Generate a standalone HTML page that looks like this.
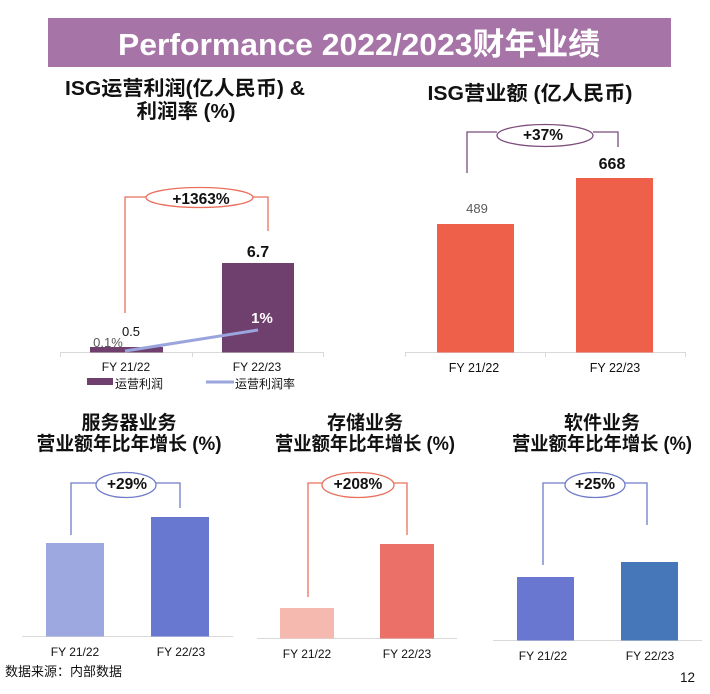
<!DOCTYPE html>
<html><head><meta charset="utf-8"><style>
html,body{margin:0;padding:0;background:#fff;}
svg{display:block;}
text{font-family:"Liberation Sans","Noto Sans CJK SC",sans-serif;}
.b{font-weight:bold;}
</style></head><body>
<svg width="710" height="694" viewBox="0 0 710 694" xmlns="http://www.w3.org/2000/svg">
<rect x="0" y="0" width="710" height="694" fill="#fff"/>
<!-- Header -->
<rect x="48" y="18" width="623" height="49" fill="#a674a6"/>
<text x="359" y="55" class="b" font-size="31" fill="#fff" text-anchor="middle" textLength="482" lengthAdjust="spacingAndGlyphs">Performance 2022/2023财年业绩</text>

<!-- Titles top -->
<text x="185" y="95" class="b" font-size="20" fill="#111" text-anchor="middle" textLength="240" lengthAdjust="spacingAndGlyphs">ISG运营利润(亿人民币) &amp;</text>
<text x="186" y="118" class="b" font-size="20" fill="#111" text-anchor="middle" textLength="99" lengthAdjust="spacingAndGlyphs">利润率 (%)</text>
<text x="530" y="100" class="b" font-size="20" fill="#111" text-anchor="middle" textLength="205" lengthAdjust="spacingAndGlyphs">ISG营业额 (亿人民币)</text>

<!-- Left chart -->
<g stroke="#d9d9d9" stroke-width="1" fill="none">
<line x1="60" y1="352.5" x2="323" y2="352.5"/>
<line x1="60.5" y1="352" x2="60.5" y2="357"/>
<line x1="192.5" y1="352" x2="192.5" y2="357"/>
<line x1="323.5" y1="352" x2="323.5" y2="357"/>
</g>
<rect x="90" y="347" width="73" height="5.5" fill="#6f406d"/>
<rect x="222" y="263" width="72" height="89.5" fill="#6f406d"/>
<line x1="125" y1="351" x2="258" y2="330" stroke="#9aa5dd" stroke-width="3"/>
<text x="258" y="257" class="b" font-size="16" fill="#111" text-anchor="middle">6.7</text>
<text x="131" y="336" font-size="13" fill="#111" text-anchor="middle">0.5</text>
<text x="108" y="347" font-size="13" fill="#595959" text-anchor="middle">0.1%</text>
<text x="262" y="323" class="b" font-size="15" fill="#fff" text-anchor="middle">1%</text>
<g stroke="#e9705c" stroke-width="1.3" fill="none">
<path d="M125 313 V197 H146"/>
<ellipse cx="199.5" cy="197.5" rx="53.5" ry="10"/>
<path d="M253 197 H268 V231"/>
</g>
<text x="201" y="204" class="b" font-size="15.5" fill="#111" text-anchor="middle">+1363%</text>
<text x="126" y="371" font-size="12" fill="#111" text-anchor="middle">FY 21/22</text>
<text x="257" y="371" font-size="12" fill="#111" text-anchor="middle">FY 22/23</text>
<rect x="87" y="378" width="26" height="7" fill="#6f406d"/>
<text x="115" y="388" font-size="12" fill="#111">运营利润</text>
<line x1="206" y1="382" x2="234" y2="382" stroke="#9aa5dd" stroke-width="3"/>
<text x="235" y="388" font-size="12" fill="#111">运营利润率</text>

<!-- Right chart -->
<g stroke="#d9d9d9" stroke-width="1" fill="none">
<line x1="405" y1="352.5" x2="685" y2="352.5"/>
<line x1="405.5" y1="352" x2="405.5" y2="357"/>
<line x1="545.5" y1="352" x2="545.5" y2="357"/>
<line x1="685.5" y1="352" x2="685.5" y2="357"/>
</g>
<rect x="437" y="224" width="77" height="128.5" fill="#ef604a"/>
<rect x="576" y="178" width="77" height="174.5" fill="#ef604a"/>
<text x="477" y="213" font-size="13" fill="#595959" text-anchor="middle">489</text>
<text x="612" y="169" class="b" font-size="16" fill="#111" text-anchor="middle">668</text>
<g stroke="#7b4c7c" stroke-width="1.3" fill="none">
<path d="M467 173 V132 H497"/>
<ellipse cx="545" cy="135.5" rx="48" ry="11"/>
<path d="M593 132 H618 V147"/>
</g>
<text x="543" y="140" class="b" font-size="15.5" fill="#111" text-anchor="middle">+37%</text>
<text x="474" y="372" font-size="12.5" fill="#111" text-anchor="middle">FY 21/22</text>
<text x="615" y="372" font-size="12.5" fill="#111" text-anchor="middle">FY 22/23</text>

<!-- Bottom titles -->
<text x="129" y="429" class="b" font-size="19" fill="#111" text-anchor="middle">服务器业务</text>
<text x="129" y="450" class="b" font-size="19" fill="#111" text-anchor="middle" textLength="185" lengthAdjust="spacingAndGlyphs">营业额年比年增长 (%)</text>
<text x="365" y="429" class="b" font-size="19" fill="#111" text-anchor="middle">存储业务</text>
<text x="365" y="450" class="b" font-size="19" fill="#111" text-anchor="middle" textLength="180" lengthAdjust="spacingAndGlyphs">营业额年比年增长 (%)</text>
<text x="602" y="429" class="b" font-size="19" fill="#111" text-anchor="middle">软件业务</text>
<text x="602" y="450" class="b" font-size="19" fill="#111" text-anchor="middle" textLength="180" lengthAdjust="spacingAndGlyphs">营业额年比年增长 (%)</text>

<!-- Bottom-left chart -->
<line x1="22" y1="636.5" x2="233" y2="636.5" stroke="#d9d9d9" stroke-width="1"/>
<rect x="46" y="543" width="58" height="93.5" fill="#9ea8e0"/>
<rect x="151" y="517" width="58" height="119.5" fill="#6877cf"/>
<g stroke="#6f7cc9" stroke-width="1.3" fill="none">
<path d="M71 535 V483 H96"/>
<ellipse cx="126" cy="485" rx="30" ry="12.5"/>
<path d="M156 483 H180 V508"/>
</g>
<text x="127" y="489" class="b" font-size="15.5" fill="#111" text-anchor="middle">+29%</text>
<text x="75" y="656" font-size="12" fill="#111" text-anchor="middle">FY 21/22</text>
<text x="181" y="656" font-size="12" fill="#111" text-anchor="middle">FY 22/23</text>
<text x="5" y="676" font-size="13" fill="#111">数据来源：内部数据</text>

<!-- Bottom-mid chart -->
<line x1="257" y1="638.5" x2="457" y2="638.5" stroke="#d9d9d9" stroke-width="1"/>
<rect x="280" y="608" width="54" height="30.5" fill="#f6b9b0"/>
<rect x="380" y="544" width="54" height="94.5" fill="#eb7068"/>
<g stroke="#e9705c" stroke-width="1.3" fill="none">
<path d="M308 597 V483 H322"/>
<ellipse cx="358" cy="485" rx="36" ry="12.5"/>
<path d="M394 483 H407 V535"/>
</g>
<text x="358" y="489" class="b" font-size="15.5" fill="#111" text-anchor="middle">+208%</text>
<text x="307" y="658" font-size="12" fill="#111" text-anchor="middle">FY 21/22</text>
<text x="407" y="658" font-size="12" fill="#111" text-anchor="middle">FY 22/23</text>

<!-- Bottom-right chart -->
<line x1="493" y1="640.5" x2="702" y2="640.5" stroke="#d9d9d9" stroke-width="1"/>
<rect x="517" y="577" width="57" height="63.5" fill="#6977d1"/>
<rect x="621" y="562" width="57" height="78.5" fill="#4677b8"/>
<g stroke="#6f7cc9" stroke-width="1.3" fill="none">
<path d="M543 565 V483 H565"/>
<ellipse cx="595" cy="485" rx="30" ry="12.5"/>
<path d="M625 483 H647 V525"/>
</g>
<text x="595" y="489" class="b" font-size="15.5" fill="#111" text-anchor="middle">+25%</text>
<text x="543" y="660" font-size="12" fill="#111" text-anchor="middle">FY 21/22</text>
<text x="650" y="660" font-size="12" fill="#111" text-anchor="middle">FY 22/23</text>
<text x="695" y="682" font-size="13.5" fill="#111" text-anchor="end">12</text>
</svg>
</body></html>
